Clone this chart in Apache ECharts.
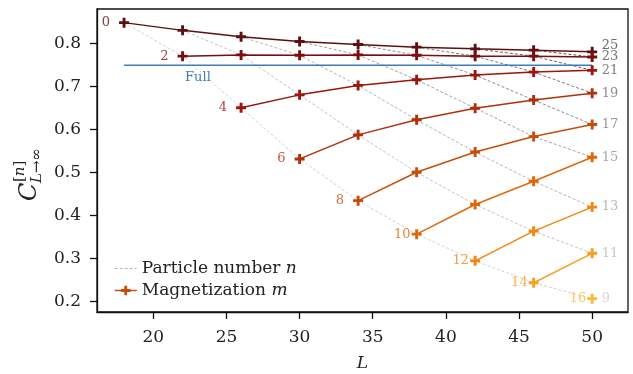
<!DOCTYPE html>
<html><head><meta charset="utf-8">
<script src="https://cdn.jsdelivr.net/npm/echarts@6/dist/echarts.min.js"></script>
<style>html,body{margin:0;padding:0;background:#fff}#c{width:633px;height:374px}</style>
</head><body><div id="c"></div>
<script>
// ---- data ----
const Ls = [18, 22, 26, 30, 34, 38, 42, 46, 50];
const mLabels = [0, 2, 4, 6, 8, 10, 12, 14, 16];
const m0 = [0.849, 0.831, 0.816, 0.805, 0.798, 0.792, 0.788, 0.785, 0.781];
const m2 = [0.771, 0.774, 0.773, 0.774, 0.773, 0.771, 0.771, 0.769];
const m4 = [0.651, 0.681, 0.703, 0.716, 0.727, 0.734, 0.738];
const m6 = [0.532, 0.588, 0.623, 0.650, 0.669, 0.685];
const m8 = [0.435, 0.501, 0.548, 0.584, 0.612];
const m10 = [0.357, 0.426, 0.480, 0.536];
const m12 = [0.295, 0.364, 0.420];
const m14 = [0.244, 0.3125];
const m16 = [0.207];
const nLabels = [25, 23, 21, 19, 17, 15, 13, 11, 9];
const fullValue = 0.750;
const fullRange = [18, 50];
const xTicks = [20, 25, 30, 35, 40, 45, 50];
const yTicks = [0.2, 0.3, 0.4, 0.5, 0.6, 0.7, 0.8];

// ---- styles ----
const mColors = ['#5e1010', '#7a0e0e', '#9a160e', '#b0300a', '#c84c0a', '#e0680a', '#f28612', '#f9a024', '#fcb938'];
const nLineColors = ['#505050', '#585858', '#686868', '#7a7a7a', '#8e8e8e', '#a2a2a2', '#b4b4b4', '#c4c4c4', '#d2d2d2'];
const nTextColors = ['#6a6a6a', '#747474', '#808080', '#8e8e8e', '#9a9a9a', '#a8a8a8', '#b8b8b8', '#c8c8c8', '#d6d6d6'];
const FONT = '"DejaVu Serif", serif';
const plus = 'path://M-1.3,-4.5L1.3,-4.5L1.3,-1.3L4.5,-1.3L4.5,1.3L1.3,1.3L1.3,4.5L-1.3,4.5L-1.3,1.3L-4.5,1.3L-4.5,-1.3L-1.3,-1.3Z';

function lighten(hex, a) {
  const r = parseInt(hex.slice(1, 3), 16), g = parseInt(hex.slice(3, 5), 16), b = parseInt(hex.slice(5, 7), 16);
  const f = c => Math.round(c * a + 255 * (1 - a));
  return 'rgb(' + f(r) + ',' + f(g) + ',' + f(b) + ')';
}

const mData = [m0, m2, m4, m6, m8, m10, m12, m14, m16];
const series = [];

// particle number (dashed) series: n = L/2 - m
nLabels.forEach((n, k) => {
  const pts = [];
  Ls.forEach((L, li) => {
    const m = L / 2 - n;
    const i = m / 2;
    if (m >= 0 && i < mData.length && li - i >= 0 && li - i < mData[i].length) {
      pts.push([L, mData[i][li - i]]);
    }
  });
  const data = pts.map((p, j) => {
    if (j === pts.length - 1) {
      return {
        value: p,
        label: {
          show: true, position: 'right', distance: 9, formatter: String(n),
          color: nTextColors[k], fontFamily: FONT, fontSize: 13,
          offset: n === 25 ? [0, -6] : [0, 0]
        }
      };
    }
    return p;
  });
  series.push({
    name: 'Particle number n', type: 'line', data: data,
    symbol: 'circle', symbolSize: 1, showSymbol: true,
    itemStyle: { color: 'rgba(0,0,0,0)' },
    lineStyle: { color: nLineColors[k], width: 1, type: [3, 2] },
    z: 2, silent: true, animation: false
  });
});

// full line
series.push({
  name: 'Full', type: 'line', data: [[fullRange[0], fullValue], [fullRange[1], fullValue]],
  symbol: 'none', lineStyle: { color: '#3d7dbd', width: 1.5 }, z: 3, silent: true, animation: false,
  markPoint: {
    symbol: 'circle', symbolSize: 0, silent: true,
    data: [{ coord: [23.05, fullValue], label: { show: true, position: 'inside', offset: [0, 12], formatter: 'Full', color: '#3d7dbd', fontFamily: FONT, fontSize: 13 } }]
  }
});

// magnetization series
mData.forEach((vals, i) => {
  const m = mLabels[i];
  const data = vals.map((v, j) => {
    if (j === 0) {
      return {
        value: [Ls[i + j], v],
        label: {
          show: true, position: 'left', distance: m >= 10 ? 1 : 9, formatter: String(m),
          color: lighten(mColors[i], 0.8), fontFamily: FONT, fontSize: 13
        }
      };
    }
    return [Ls[i + j], v];
  });
  series.push({
    name: 'Magnetization m', type: 'line', data: data,
    symbol: plus, symbolSize: 10, showSymbol: true,
    itemStyle: { color: mColors[i] },
    lineStyle: { color: mColors[i], width: 1.5 },
    z: 4, silent: true, animation: false
  });
});

const chart = echarts.init(document.getElementById('c'), null, { renderer: 'canvas' });
chart.setOption({
  animation: false,
  backgroundColor: '#fff',
  grid: { left: 97, right: 5, top: 9, bottom: 62, containLabel: false, outerBoundsMode: 'none',
    show: true, borderColor: '#111', borderWidth: 1.3, backgroundColor: 'transparent' },
  xAxis: {
    type: 'value', min: 16.15, max: 52.45,
    name: 'L', nameLocation: 'middle', nameGap: 43,
    nameTextStyle: { fontFamily: FONT, fontStyle: 'italic', fontSize: 17, color: '#222' },
    axisLine: { show: true, lineStyle: { color: '#111', width: 1.3 } },
    axisTick: { show: true, inside: false, length: 7, lineStyle: { color: '#111', width: 1.3 }, customValues: xTicks },
    axisLabel: { customValues: xTicks, margin: 17, fontFamily: FONT, fontSize: 17, color: '#222' },
    splitLine: { show: false }
  },
  yAxis: {
    type: 'value', min: 0.176, max: 0.8807,
    axisLine: { show: true, lineStyle: { color: '#111', width: 1.3 } },
    axisTick: { show: true, inside: false, length: 7, lineStyle: { color: '#111', width: 1.3 }, customValues: yTicks },
    axisLabel: { customValues: yTicks, margin: 16, fontFamily: FONT, fontSize: 17, color: '#222', formatter: v => v.toFixed(1) },
    splitLine: { show: false }
  },
  legend: {
    show: true,
    orient: 'vertical', left: 109, top: 255, itemWidth: 22, itemHeight: 12, itemGap: 5,
    selectedMode: false,
    textStyle: { fontFamily: FONT, fontSize: 17, color: '#222',
      rich: { i: { fontFamily: FONT, fontStyle: 'italic', fontSize: 17, color: '#222' } } },
    formatter: function (name) { return name === 'Particle number n' ? 'Particle number {i|n}' : 'Magnetization {i|m}'; },
    data: [
      { name: 'Particle number n', lineStyle: { color: '#b8b8b8', width: 1, type: [3, 2] } },
      { name: 'Magnetization m', itemStyle: { color: '#c84c0a' }, lineStyle: { color: '#c84c0a', width: 1.5 } }
    ]
  },
  graphic: [{
    type: 'group', x: 30, y: 201, rotation: Math.PI / 2,
    children: [
      { type: 'text', x: 0, y: 0, style: { text: 'C', font: 'italic 24px "DejaVu Serif"', fill: '#222', verticalAlign: 'middle', align: 'left' } },
      { type: 'text', x: 19, y: -10, style: { text: '[{i|n}]', font: '15px "DejaVu Serif"', fill: '#222', verticalAlign: 'middle', align: 'left', rich: { i: { fontStyle: 'italic', fontFamily: 'DejaVu Serif', fontSize: 15 } } } },
      { type: 'text', x: 18, y: 7, style: { text: '{i|L}→∞', font: '15px "DejaVu Serif"', fill: '#222', verticalAlign: 'middle', align: 'left', rich: { i: { fontStyle: 'italic', fontFamily: 'DejaVu Serif', fontSize: 15 } } } }
    ]
  }],
  series: series
});
</script></body></html>
